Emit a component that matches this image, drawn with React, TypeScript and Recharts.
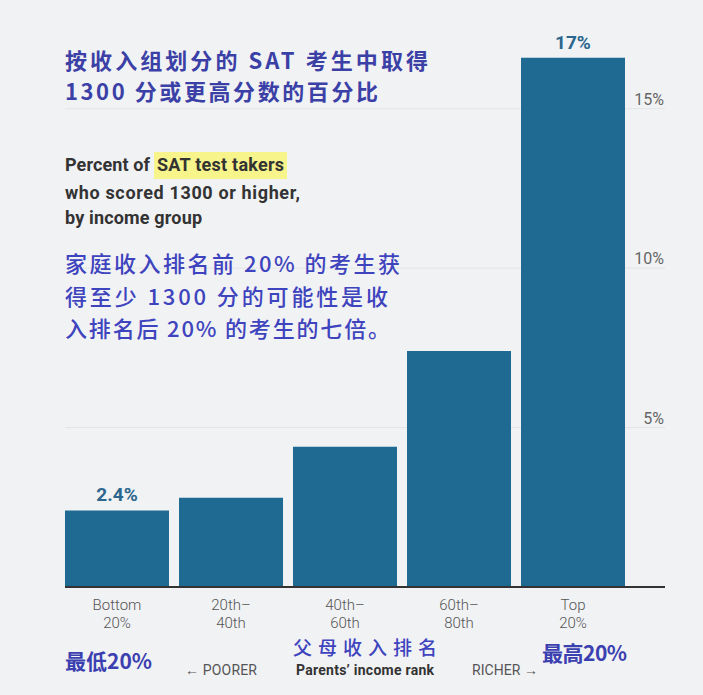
import React from 'react';
import { BarChart, Bar, XAxis, YAxis, CartesianGrid, ReferenceLine, LabelList } from 'recharts';

const categories = ['Bottom 20%', '20th–40th', '40th–60th', '60th–80th', 'Top 20%'];
const tickLine1 = ['Bottom', '20th–', '40th–', '60th–', 'Top'];
const tickLine2 = ['20%', '40th', '60th', '80th', '20%'];
const shares = [2.4, 2.8, 4.4, 7.4, 16.6];
const valueLabels = ['2.4%', '', '', '', '17%'];
const yTicks = [5, 10, 15];
const yTickLabels = ['5%', '10%', '15%'];

const data = categories.map((c, i) => ({ name: c, value: shares[i], label: valueLabels[i] }));

const BG = '#f1f2f4';
const BAR = '#1f6a92';
const CJK = '"Noto Sans CJK SC", sans-serif';
const LATIN = 'Roboto, "Liberation Sans", sans-serif';

const XTick = (props: any) => {
  const { x, y, payload } = props;
  const i = categories.indexOf(payload.value);
  return (
    <g>
      <text x={x} y={y + 23} textAnchor="middle" fill="#555" fontSize={15} fontWeight={300} fontFamily={LATIN}>{tickLine1[i]}</text>
      <text x={x} y={y + 41} textAnchor="middle" fill="#555" fontSize={15} fontWeight={300} fontFamily={LATIN}>{tickLine2[i]}</text>
    </g>
  );
};

const GridLabel = (text: string) => (props: any) => {
  const vb = props.viewBox || {};
  return (
    <text x={vb.x + vb.width - 1} y={vb.y - 4} textAnchor="end" fill="#666" fontSize={16} fontWeight={400} fontFamily={LATIN}>{text}</text>
  );
};

export default function App() {
  return (
    <div style={{ position: 'absolute', left: 0, top: 0, width: 703, height: 695, background: BG, overflow: 'hidden' }}>
      <BarChart width={703} height={695} data={data} margin={{ top: 13, right: 38, left: 65, bottom: 0 }}>
        <CartesianGrid vertical={false} horizontalValues={yTicks} stroke="#e2e4e7" strokeWidth={1} />
        <XAxis dataKey="name" axisLine={false} tickLine={false} tickSize={0} tickMargin={0} height={108} padding={{ left: -5, right: 35 }} tick={<XTick />} interval={0} />
        <YAxis orientation="right" domain={[0, 18]} ticks={yTicks} width={0} hide />
        <Bar dataKey="value" fill={BAR} barSize={104} isAnimationActive={false}>
          <LabelList dataKey="label" position="top" offset={9} fill="#2a668d" fontSize={19} fontWeight={700} fontFamily={LATIN} />
        </Bar>
        {yTicks.map((t, i) => (
          <ReferenceLine key={t} y={t} stroke="none" label={GridLabel(yTickLabels[i])} />
        ))}
        <ReferenceLine y={0} stroke="#333" strokeWidth={2} />
      </BarChart>
      <svg width={703} height={695} style={{ position: 'absolute', left: 0, top: 0, pointerEvents: 'none' }}>
        <g fontFamily={CJK} fill="#3b40a6" fontWeight={700} fontSize={22}>
          <text x={65} y={69} textLength={363} lengthAdjust="spacing">按收入组划分的 SAT 考生中取得</text>
          <text x={65} y={100} textLength={313} lengthAdjust="spacing">1300 分或更高分数的百分比</text>
        </g>
        <rect x={154} y={152} width={133} height={27} fill="#f6f48a" />
        <g fontFamily={LATIN} fill="#333" fontWeight={700} fontSize={18}>
          <text x={65} y={171} textLength={85} lengthAdjust="spacing">Percent of</text>
          <text x={157} y={171} textLength={127} lengthAdjust="spacing">SAT test takers</text>
          <text x={65} y={199} textLength={235} lengthAdjust="spacing">who scored 1300 or higher,</text>
          <text x={65} y={224} textLength={137} lengthAdjust="spacing">by income group</text>
        </g>
        <g fontFamily={CJK} fill="#3e43be" fontWeight={500} fontSize={22}>
          <text x={65} y={272} textLength={335} lengthAdjust="spacing">家庭收入排名前 20% 的考生获</text>
          <text x={65} y={305} textLength={323} lengthAdjust="spacing">得至少 1300 分的可能性是收</text>
          <text x={65} y={337} textLength={325} lengthAdjust="spacing">入排名后 20% 的考生的七倍。</text>
        </g>
        <g fontFamily={CJK} fill="#3b40b0" fontWeight={700} fontSize={21}>
          <text x={65} y={669} textLength={87} lengthAdjust="spacing">最低20%</text>
          <text x={542} y={661} textLength={85} lengthAdjust="spacing">最高20%</text>
        </g>
        <text x={293} y={655} textLength={144} lengthAdjust="spacing" fontFamily={CJK} fill="#3e43be" fontWeight={500} fontSize={19}>父母收入排名</text>
        <g fontFamily={LATIN} fontSize={14}>
          <text x={185} y={675} fill="#555" textLength={72} lengthAdjust="spacing">← POORER</text>
          <text x={296} y={675} fill="#333" fontWeight={700} fontSize={14} textLength={138} lengthAdjust="spacing">Parents’ income rank</text>
          <text x={472} y={675} fill="#555" textLength={66} lengthAdjust="spacing">RICHER →</text>
        </g>
      </svg>
    </div>
  );
}
